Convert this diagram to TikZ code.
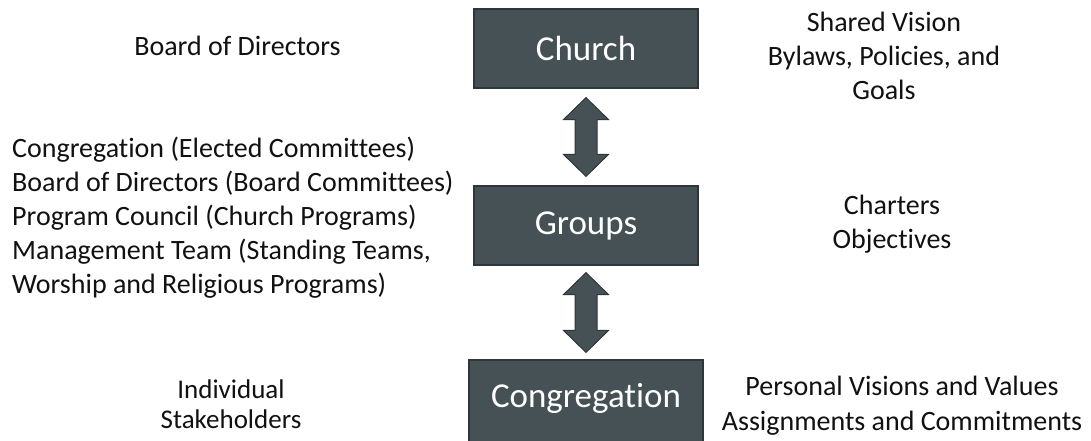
\documentclass[tikz,border=0pt]{standalone}
\usetikzlibrary{calc}
\usepackage{fontspec}
\setmainfont{Carlito}[Ligatures=NoCommon]
\definecolor{boxfill}{HTML}{465156}
\definecolor{boxline}{HTML}{2F363A}
\definecolor{txt}{HTML}{111111}
\begin{document}
\begin{tikzpicture}[x=1pt,y=-1pt,
  level/.style={draw=boxline, line width=1.2pt, fill=boxfill, text=white, inner sep=0pt,
    font=\fontsize{35}{40}\selectfont},
  side/.style={text=txt, inner sep=0pt, anchor=base, font=\fontsize{28}{34}\selectfont},
  blockarrow/.style={draw=boxline, line width=1pt, fill=boxfill, line join=miter}]
\useasboundingbox (0,0) rectangle (1091,440);
\fill[white] (0,0) rectangle (1091,440);
\begin{scope}
\clip (0,0) rectangle (1091,440);
\node[level, minimum width=224pt, minimum height=79pt] (church) at (586,48.5) {Church};
\node[level, minimum width=224pt, minimum height=79pt] (groups) at (586,225.5) {Groups};
\node[level, minimum width=234pt, minimum height=90pt] (cong) at (586,405) {};
\node[text=white, inner sep=0pt, anchor=base, font=\fontsize{35}{40}\selectfont] (congt) at (586,407) {Congregation};
\end{scope}
% block arrows
\coordinate (a1t) at ($(church.south)+(0,9)$);
\coordinate (a1b) at ($(groups.north)+(0,-9)$);
\coordinate (a2t) at ($(groups.south)+(0,7)$);
\coordinate (a2b) at ($(cong.north)+(0,-7)$);
\foreach \t/\b in {a1t/a1b, a2t/a2b}{
  \draw[blockarrow] (\t) -- ($(\t)+(22.5,22)$) -- ($(\t)+(11,22)$) -- ($(\b)+(11,-22)$)
    -- ($(\b)+(22.5,-22)$) -- (\b) -- ($(\b)+(-22.5,-22)$) -- ($(\b)+(-11,-22)$)
    -- ($(\t)+(-11,22)$) -- ($(\t)+(-22.5,22)$) -- cycle;
}
% left texts
\node[side] (bod) at (237.5,55) {Board of Directors};
\node[side, align=left, anchor=base west] (grl) at (12,293) {Congregation (Elected Committees)\\Board of Directors (Board Committees)\\Program Council (Church Programs)\\Management Team (Standing Teams,\\Worship and Religious Programs)};
\node[side, align=center, font=\fontsize{27}{30}\selectfont] (ind) at (231,428) {Individual\\Stakeholders};
% right texts
\node[side, align=center] (vis) at (884,99) {Shared Vision\\Bylaws, Policies, and\\Goals};
\node[side, align=center] (cha) at (892,248) {Charters\\Objectives};
\node[side, align=center, font=\fontsize{28}{35}\selectfont] (pers) at (902,430) {Personal Visions and Values\\Assignments and Commitments};
\end{tikzpicture}
\end{document}
